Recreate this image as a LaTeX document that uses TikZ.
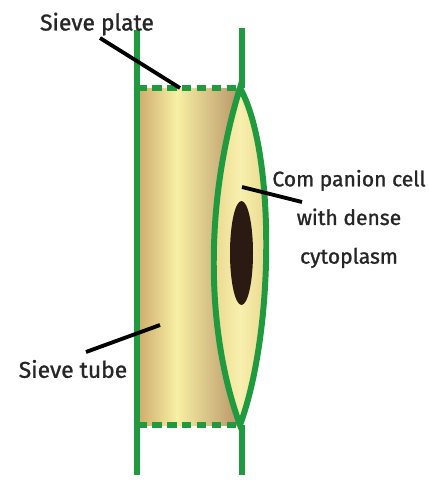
\documentclass[tikz,border=0pt]{standalone}
\usepackage{fontspec}
\setmainfont{Fira Sans}
\newfontfamily\lblfont{Fira Sans}[FakeBold=1.2]
\usetikzlibrary{positioning}

\definecolor{wallgreen}{HTML}{1F9A3F}
\definecolor{tubeL}{HTML}{CDAA6C}
\definecolor{tubeM}{HTML}{F8F0A4}
\definecolor{tubeR}{HTML}{B89468}
\definecolor{cellA}{HTML}{E6D186}
\definecolor{cellB}{HTML}{F8F0AE}
\definecolor{nucl}{HTML}{2B1A12}

\tikzset{
    wall/.style={wallgreen, line width=3.4pt},
    plate/.style={wallgreen, line width=3.4pt, dash pattern=on 5.5pt off 3pt},
    leader/.style={black, line width=2.2pt},
    lbl/.style={font=\lblfont\fontsize{13}{22}\selectfont, inner sep=1pt, text=black!85}
}

\begin{document}
\begin{tikzpicture}[x=0.02cm, y=-0.02cm]
    \useasboundingbox (0,0) rectangle (429,480);

    % sieve tube body, light band left of centre
    \shade[left color=tubeL, right color=tubeM] (137,88) rectangle (177,425);
    \shade[left color=tubeM, right color=tubeR] (176.5,88) rectangle (240,425);

    % companion cell
    \draw[wall, left color=cellA, right color=cellA, middle color=cellB]
        (240,88) .. controls (275,150) and (275,330) .. (240,425)
                 .. controls (205,330) and (205,200) .. (240,88) -- cycle;
    \fill[nucl] (241.5,253) ellipse (11.5 and 52);

    % walls and sieve plates
    \draw[wall] (137,30) -- (137,475);
    \draw[wall] (242,28) -- (242,88);
    \draw[wall] (242,425) -- (242,475);
    \draw[plate] (137,88) -- (240,88);
    \draw[plate] (137,425) -- (240,425);

    % labels
    \node[lbl] (plate) at (97,24) {Sieve plate};
    \node[lbl, font=\lblfont\fontsize{12}{22}\selectfont, align=center] (comp) at (349,219)
        {Com panion cell\\with dense\\cytoplasm};
    \node[lbl] (tube) at (73,369) {Sieve tube};

    \coordinate (platept) at (180,88);
    \coordinate (comppt) at (242,187);
    \coordinate (tubept) at (160,325);

    \draw[leader] (100,38) -- (platept);
    \draw[leader] (302,202) -- (comppt);
    \draw[leader] (86,352) -- (tubept);
\end{tikzpicture}
\end{document}
